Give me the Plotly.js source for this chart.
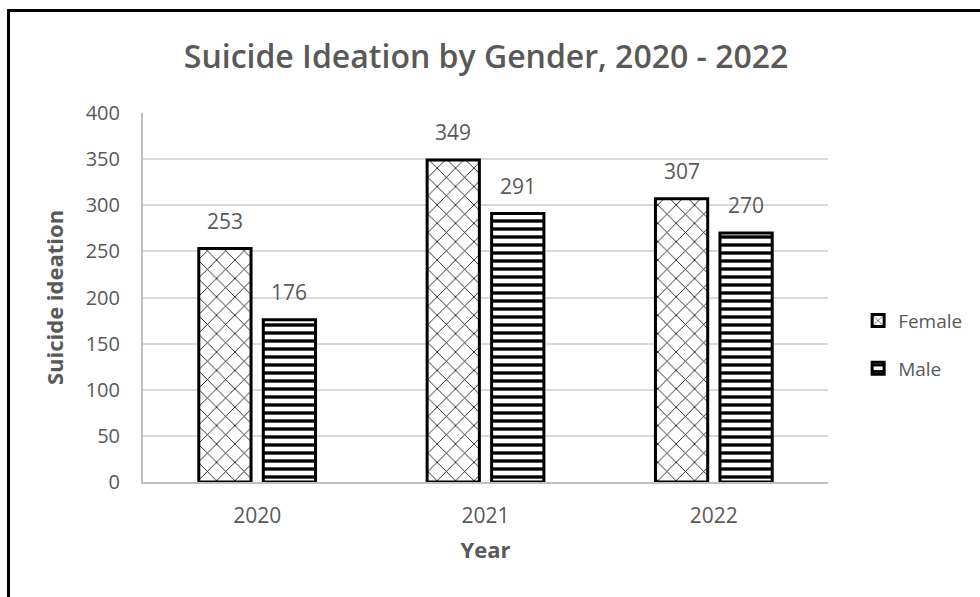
<!DOCTYPE html>
<html>
<head>
<meta charset="utf-8">
<script src="https://cdn.plot.ly/plotly-3.0.1.min.js"></script>
<style>
  html, body { margin: 0; padding: 0; background: #fff; }
  #wrap { position: relative; width: 980px; height: 597px; }
  #chart { position: absolute; left: 0; top: 0; width: 980px; height: 597px; }
  #frame { position: absolute; left: 7px; top: 9px; width: 990px; height: 600px;
           border-left: 3px solid #000; border-top: 3px solid #000; pointer-events: none; }
</style>
</head>
<body>
<div id="wrap">
  <div id="chart"></div>
  <div id="frame"></div>
</div>
<script>
const years = ['2020', '2021', '2022'];
const female = [253, 349, 307];
const male = [176, 291, 270];
const seriesNames = ['Female', 'Male'];
const yTicks = [0, 50, 100, 150, 200, 250, 300, 350, 400];

const FONT = '"Open Sans", "Noto Sans", sans-serif';
const GREY = '#595959';
const bargap = 0.435;
const bargroupgap = 0.19;

const traces = [
  {
    type: 'bar', name: seriesNames[0], x: years, y: female, legendgroup: 'f',
    marker: { color: '#ffffff', line: { color: '#000', width: 3 },
              pattern: { shape: 'x', fgcolor: '#000', bgcolor: '#fff', size: 13, solidity: 0.12 } },
    hoverinfo: 'none'
  },
  {
    type: 'bar', name: seriesNames[1], x: years, y: male, legendgroup: 'm',
    marker: { color: '#ffffff', line: { color: '#000', width: 3 },
              pattern: { shape: '-', fgcolor: '#000', bgcolor: '#fff', size: 8, solidity: 0.42 } },
    hoverinfo: 'none'
  }
];

const slot = (1 - bargap) / 2;
const annotations = [];
[female, male].forEach((vals, s) => {
  vals.forEach((v, i) => {
    annotations.push({
      x: i + (s === 0 ? -slot / 2 : slot / 2), y: v, xref: 'x', yref: 'y',
      text: String(v), showarrow: false, yanchor: 'bottom', yshift: 12,
      font: { family: FONT, size: 21, color: GREY }
    });
  });
});

const layout = {
  width: 980, height: 597,
  margin: { l: 143, r: 152, t: 113, b: 115 },
  paper_bgcolor: '#fff', plot_bgcolor: '#fff',
  barmode: 'group', bargap: bargap, bargroupgap: bargroupgap,
  title: { text: 'Suicide Ideation by Gender, 2020 - 2022', x: 0.496, xanchor: 'center',
           y: 0.905, yanchor: 'middle', yref: 'container',
           font: { family: FONT, size: 32, color: GREY, weight: 600 } },
  xaxis: {
    type: 'category', showgrid: false, showline: true, linecolor: '#bfbfbf', linewidth: 2,
    ticks: '', tickfont: { family: FONT, size: 21, color: GREY }, ticklabelstandoff: 14,
    title: { text: 'Year', font: { family: FONT, size: 22, color: GREY, weight: 'bold' }, standoff: 14 }
  },
  yaxis: {
    range: [0, 400], tickvals: yTicks, showgrid: true, gridcolor: '#d9d9d9', gridwidth: 2,
    zeroline: false, showline: true, linecolor: '#bfbfbf', linewidth: 2, ticks: '',
    tickfont: { family: FONT, size: 20, color: GREY }, ticklabelstandoff: 17,
    title: { text: 'Suicide ideation', font: { family: FONT, size: 22, color: GREY, weight: 'bold' }, standoff: 16 }
  },
  showlegend: true,
  legend: { x: 1.044, xanchor: 'left', y: 0.372, yanchor: 'middle', traceorder: 'grouped',
            tracegroupgap: 20, itemwidth: 30,
            font: { family: FONT, size: 19, color: GREY }, bgcolor: 'rgba(0,0,0,0)' },
  annotations: annotations
};

Plotly.newPlot('chart', traces, layout, { displayModeBar: false, staticPlot: true });
</script>
</body>
</html>
